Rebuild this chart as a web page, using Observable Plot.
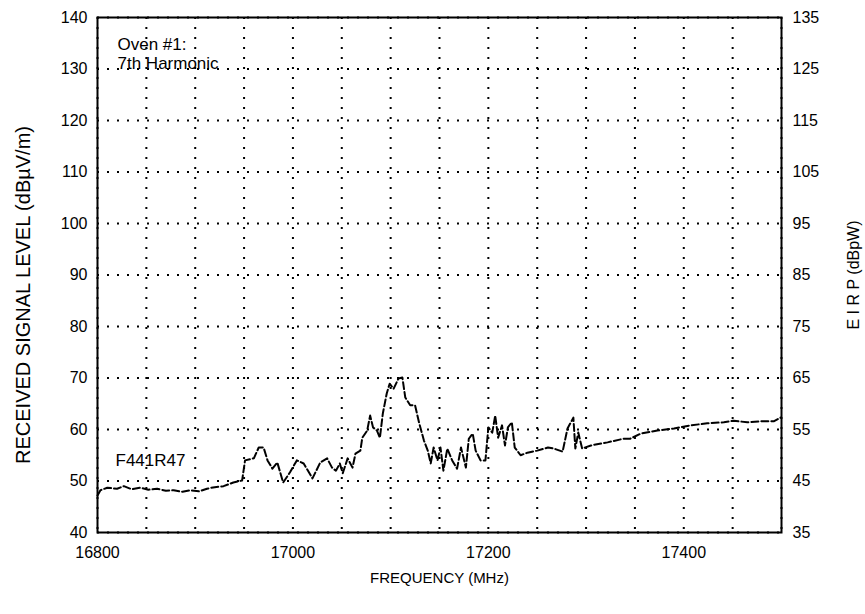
<!DOCTYPE html>
<html><head><meta charset="utf-8">
<script src="https://cdn.jsdelivr.net/npm/d3@7"></script>
<script src="https://cdn.jsdelivr.net/npm/@observablehq/plot@0.6"></script>
<style>body{margin:0;background:#fff;}</style>
</head><body><div id="chart"></div>
<script>
const freq = [16800,16803,16810,16820,16827,16835,16844,16852,16861,16870,16878,16887,16895,16904,16912,16920,16929,16939,16948,16951,16960,16965,16970,16974,16979,16984,16990,16997,17004,17011,17020,17028,17035,17040,17044,17048,17051,17056,17061,17064,17069,17071,17076,17079,17082,17086,17089,17092,17096,17099,17103,17108,17112,17115,17120,17125,17129,17134,17138,17141,17144,17148,17151,17154,17158,17163,17168,17172,17177,17180,17184,17187,17192,17197,17200,17204,17207,17210,17214,17217,17220,17224,17227,17233,17240,17250,17261,17267,17276,17281,17287,17289,17292,17296,17305,17322,17338,17345,17356,17373,17390,17407,17424,17441,17451,17465,17479,17492,17499];
const level = [47.2,48.2,48.7,48.5,49.0,48.4,48.7,48.3,48.5,48.1,48.2,47.9,48.2,48.0,48.5,48.8,49.0,49.7,50.1,54.0,54.4,56.5,56.5,54.0,52.4,53.6,49.7,51.7,54.0,53.4,50.5,53.6,54.4,52.6,52.0,53.4,51.5,54.4,52.6,55.3,55.9,58.4,59.8,62.7,60.4,59.8,58.4,63.1,67.0,68.9,67.9,69.9,70.1,66.2,64.7,64.7,61.4,57.9,55.9,53.4,56.5,54.0,56.5,52.0,56.3,54.0,52.4,56.5,52.6,58.2,59.2,55.9,54.0,54.0,60.4,59.4,62.7,58.4,60.8,56.9,60.4,61.4,56.5,55.0,55.5,55.9,56.5,56.3,55.7,60.2,62.3,56.3,59.4,56.3,56.9,57.5,58.2,58.2,59.2,59.8,60.2,60.8,61.2,61.4,61.7,61.4,61.6,61.6,62.3];
const xTickLabels = [16800, 17000, 17200, 17400];
const xGridValues = [16800,16850,16900,16950,17000,17050,17100,17150,17200,17250,17300,17350,17400,17450,17500];
const yTickLabels = [40,50,60,70,80,90,100,110,120,130,140];
const eirpTickLabels = [35,45,55,65,75,85,95,105,115,125,135];
const xLabel = "FREQUENCY (MHz)";
const yLabel = "RECEIVED SIGNAL LEVEL (dBµV/m)";
const y2Label = "E I R P (dBpW)";
const noteText = "Oven #1:\n7th Harmonic";
const traceText = "F441R47";

const data = freq.map((f, i) => ({f, v: level[i]}));
const grid = {stroke: "#000", strokeOpacity: 1, strokeWidth: 2, strokeDasharray: "2,8"};

const chart = Plot.plot({
  width: 865, height: 614,
  marginLeft: 97, marginRight: 84, marginTop: 17, marginBottom: 82,
  style: {fontFamily: "'Liberation Sans', Arial, sans-serif", fontSize: "16px", background: "#fff", color: "#000"},
  x: {domain: [16800, 17500]},
  y: {domain: [40, 140]},
  marks: [
    Plot.gridX(xGridValues, grid),
    Plot.gridY(yTickLabels, grid),
    Plot.line(data, {x: "f", y: "v", stroke: "#000", strokeWidth: 2, strokeDasharray: "7,3"}),
    Plot.frame({stroke: "#000", strokeWidth: 2}),
    Plot.axisX(xTickLabels, {tickSize: 0, tickPadding: 14, label: null, tickFormat: d => String(d)}),
    Plot.axisY(yTickLabels, {anchor: "left", tickSize: 0, tickPadding: 10, label: null}),
    Plot.axisY(yTickLabels, {anchor: "right", tickSize: 0, tickPadding: 11, label: null, tickFormat: d => String(eirpTickLabels[yTickLabels.indexOf(d)])}),
    Plot.text([noteText], {frameAnchor: "top-left", dx: 20, dy: 19, textAnchor: "start", lineAnchor: "top", fontSize: 17, lineHeight: 1.12}),
    Plot.text([traceText], {frameAnchor: "top-left", dx: 18, dy: 443, textAnchor: "start", lineAnchor: "middle", fontSize: 17}),
    Plot.text([yLabel], {frameAnchor: "left", dx: -74, dy: 20, rotate: -90, textAnchor: "middle", fontSize: 20}),
    Plot.text([y2Label], {frameAnchor: "right", dx: 72, rotate: -90, textAnchor: "middle", fontSize: 16}),
    Plot.text([xLabel], {frameAnchor: "bottom", dy: 50, textAnchor: "middle", fontSize: 15})
  ]
});
document.getElementById("chart").append(chart);
</script>
</body></html>
